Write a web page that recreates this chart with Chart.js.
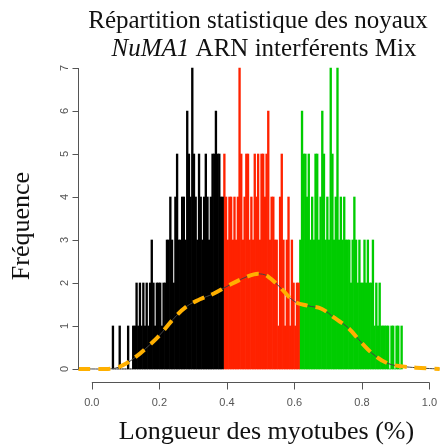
<!DOCTYPE html>
<html>
<head>
<meta charset="utf-8">
<script src="https://cdn.jsdelivr.net/npm/chart.js@4.4.1/dist/chart.umd.min.js"></script>
<style>
  html, body { margin: 0; padding: 0; background: #fff; }
  #wrap { width: 443px; height: 446px; }
</style>
</head>
<body>
<div id="wrap"><canvas id="histChart" width="443" height="446"></canvas></div>
<script>
// --- data ---
const binWidth = 0.005;

// black bins, starting at 0.06
const blackStart = 0.06;
const blackCounts = [1,0,0,0,1,0,0,0,0,1, 0,0,1,1,2,1,2,1,2,1,
                     2,1,2,3,2,1,2,2,2,1, 2,2,3,3,4,3,2,4,5,3,
                     3,4,4,3,6,5,4,7,5,4, 3,5,4,3,4,5,4,3,4,5,
                     5,6,5,5,4,4];

// red bins, starting at 0.39
const redStart = 0.39;
const redCounts = [5,4,3,4,4,3,4,3,4,7, 5,3,4,5,5,3,4,3,5,4,
                   5,3,5,5,4,5,6,3,4,4, 3,3,1,4,5,3,1,3,4,1,
                   3,2,1,2,2];

// green bins, starting at 0.615
const greenStart = 0.615;
const greenCounts = [3,6,5,5,4,5,3,4,3,5, 5,3,4,6,5,3,4,3,7,5,
                     3,4,7,3,4,3,4,3,3,3, 2,3,4,3,2,3,2,2,3,2,
                     3,2,2,3,1,2,1,2,1,1, 1,1,1,0,1,1,0,1,1,0,
                     1];

// density curve (in frequency units)
const densityX = [-0.04, 0.0, 0.04, 0.07, 0.1, 0.13, 0.16, 0.2, 0.24, 0.28, 0.32, 0.36, 0.4, 0.44, 0.48,
                  0.5, 0.52, 0.56, 0.6, 0.64, 0.68, 0.72, 0.76, 0.8, 0.84, 0.88, 0.92, 0.96, 1.0, 1.03];
const densityY = [0, 0, 0, 0.02, 0.12, 0.28, 0.48, 0.78, 1.15, 1.45, 1.62, 1.75, 1.92, 2.08, 2.2,
                  2.21, 2.16, 1.88, 1.57, 1.47, 1.4, 1.18, 0.95, 0.6, 0.3, 0.12, 0.06, 0.03, 0.01, 0];

const xTicks = [0.0, 0.2, 0.4, 0.6, 0.8, 1.0];
const yTicks = [0, 1, 2, 3, 4, 5, 6, 7];

const titleLine1 = 'Répartition statistique des noyaux';
const titleItalic = 'NuMA1';
const titleRest = ' ARN interférents Mix';
const xTitle = 'Longueur des myotubes (%)';
const yTitle = 'Fréquence';

const SERIF = '"Liberation Serif", "Times New Roman", serif';
const SANS = '"Liberation Sans", Arial, sans-serif';

function toBars(start, counts) {
    return counts.map((c, i) => ({ x: start + (i + 0.5) * binWidth, y: c }));
}

// R-style axes, tick labels and titles
const rDecor = {
    id: 'rDecor',
    afterDraw(chart) {
        const { ctx, scales: { x, y } } = chart;
        ctx.save();
        ctx.strokeStyle = '#555';
        ctx.lineWidth = 1;

        // x axis (only over tick range)
        const axY = Math.round(y.bottom) + 1.5;
        ctx.beginPath();
        ctx.moveTo(x.getPixelForValue(xTicks[0]), axY);
        ctx.lineTo(x.getPixelForValue(xTicks[xTicks.length - 1]), axY);
        xTicks.forEach(t => {
            const px = Math.round(x.getPixelForValue(t)) + 0.5;
            ctx.moveTo(px, axY);
            ctx.lineTo(px, axY + 7);
        });
        // y axis
        const axX = Math.round(x.left) + 0.5;
        ctx.moveTo(axX, y.getPixelForValue(yTicks[0]));
        ctx.lineTo(axX, y.getPixelForValue(yTicks[yTicks.length - 1]));
        yTicks.forEach(t => {
            const py = Math.round(y.getPixelForValue(t)) + 0.5;
            ctx.moveTo(axX, py);
            ctx.lineTo(axX - 6, py);
        });
        ctx.stroke();

        ctx.fillStyle = '#555';
        ctx.font = '11px ' + SANS;
        ctx.textAlign = 'center';
        ctx.textBaseline = 'middle';
        xTicks.forEach(t => {
            ctx.fillText(t.toFixed(1), x.getPixelForValue(t), axY + 20);
        });
        yTicks.forEach(t => {
            ctx.save();
            ctx.translate(axX - 14, y.getPixelForValue(t));
            ctx.rotate(-Math.PI / 2);
            ctx.fillText(String(t), 0, 0);
            ctx.restore();
        });

        // axis titles
        ctx.fillStyle = '#111';
        ctx.font = '26px ' + SERIF;
        ctx.fillText(xTitle, (x.left + x.right) / 2 + 6, 432);
        ctx.save();
        ctx.translate(22, 226);
        ctx.rotate(-Math.PI / 2);
        ctx.fillText(yTitle, 0, 0);
        ctx.restore();

        // main title, two lines, second line partly italic
        ctx.font = '25px ' + SERIF;
        ctx.fillText(titleLine1, 258, 21);
        ctx.font = 'italic 25px ' + SERIF;
        const wItal = ctx.measureText(titleItalic).width;
        ctx.font = '25px ' + SERIF;
        const wRest = ctx.measureText(titleRest).width;
        const startX = 264 - (wItal + wRest) / 2;
        ctx.textAlign = 'left';
        ctx.font = 'italic 25px ' + SERIF;
        ctx.fillText(titleItalic, startX, 49);
        ctx.font = '25px ' + SERIF;
        ctx.fillText(titleRest, startX + wItal, 49);

        ctx.restore();
    }
};

const densityPoints = densityX.map((v, i) => ({ x: v, y: densityY[i] }));

const barCommon = {
    type: 'bar',
    grouped: false,
    barPercentage: 1,
    categoryPercentage: 1,
    borderWidth: 0,
    order: 2
};

new Chart(document.getElementById('histChart'), {
    data: {
        datasets: [
            { ...barCommon, label: 'noir', data: toBars(blackStart, blackCounts), backgroundColor: '#000000' },
            { ...barCommon, label: 'rouge', data: toBars(redStart, redCounts), backgroundColor: '#FF2200' },
            { ...barCommon, label: 'vert', data: toBars(greenStart, greenCounts), backgroundColor: '#00CC00' },
            {
                type: 'line', label: 'densité', data: densityPoints,
                borderColor: '#444444', borderWidth: 1, pointRadius: 0,
                tension: 0.4, fill: false, order: 1
            },
            {
                type: 'line', label: 'densité (tirets)', data: densityPoints,
                borderColor: '#FFB000', borderWidth: 4, borderDash: [12, 8],
                pointRadius: 0, tension: 0.4, fill: false, order: 0
            }
        ]
    },
    options: {
        responsive: false,
        animation: false,
        layout: { padding: { left: 78, right: 0, top: 56, bottom: 65 } },
        scales: {
            x: { type: 'linear', min: -0.041, max: 1.04, offset: false, display: false },
            y: { type: 'linear', min: -0.28, max: 7.28, display: false }
        },
        plugins: {
            legend: { display: false },
            tooltip: { enabled: false },
            title: { display: false }
        }
    },
    plugins: [rDecor]
});
</script>
</body>
</html>
